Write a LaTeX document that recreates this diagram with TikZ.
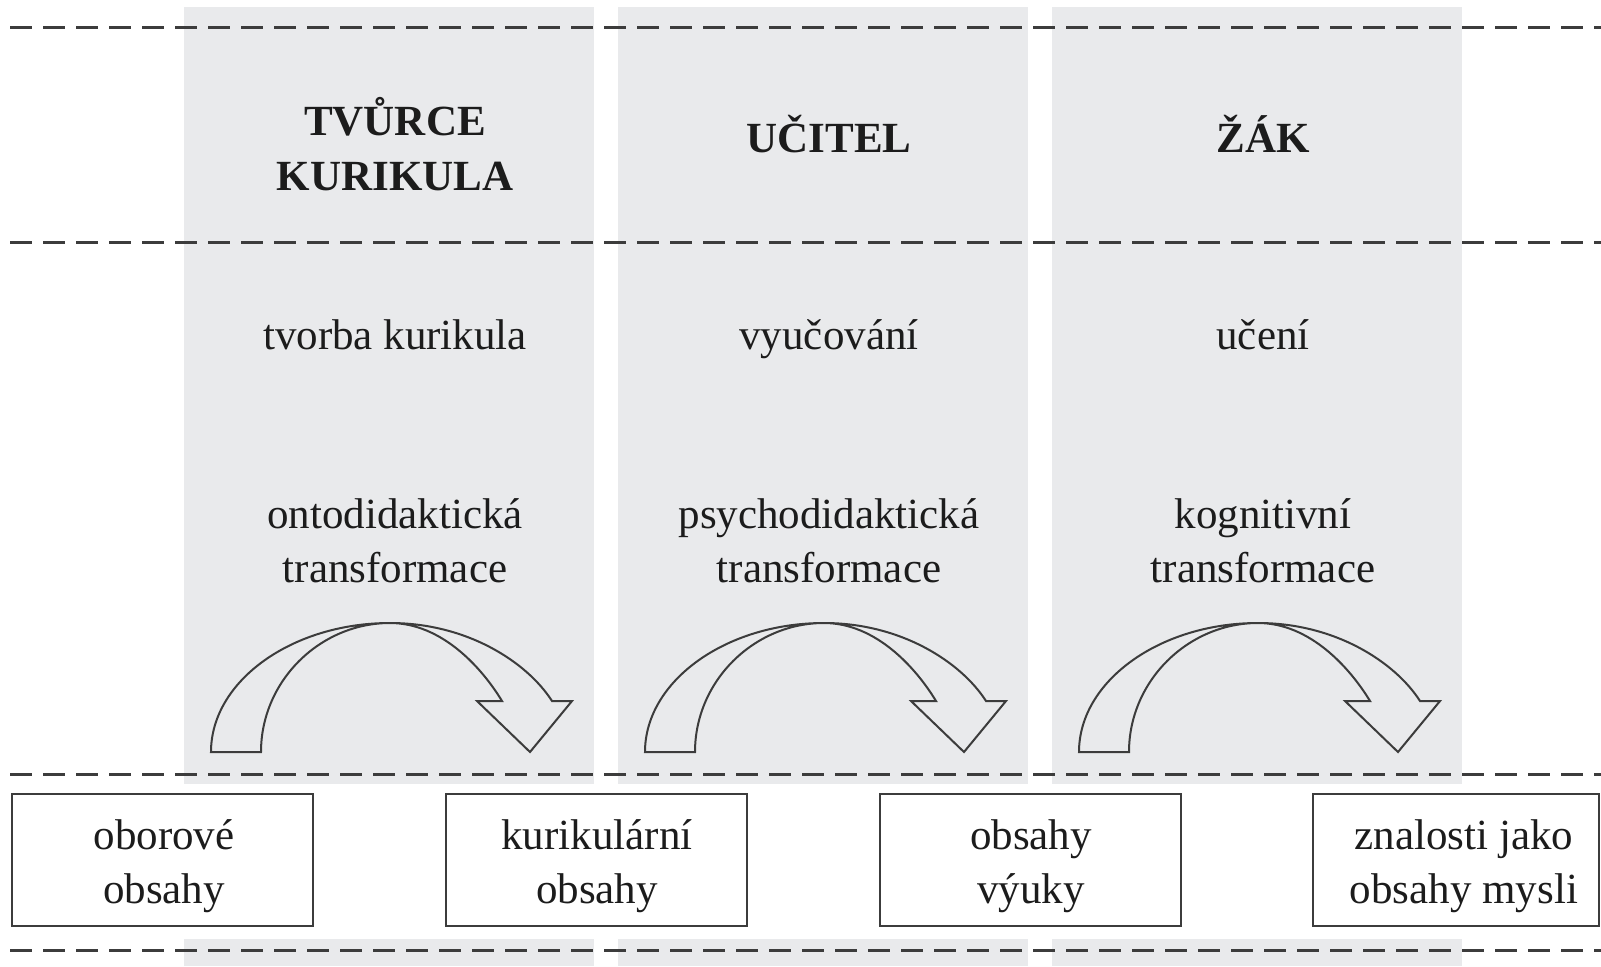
\documentclass[tikz,border=0pt]{standalone}
\usepackage{fontspec}
\setmainfont{Liberation Serif}
\definecolor{colgray}{RGB}{233,234,236}
\definecolor{ink}{RGB}{28,28,28}
\definecolor{linegray}{RGB}{60,60,60}
\begin{document}
\begin{tikzpicture}[x=0.5pt,y=-0.5pt,
  colfill/.style={fill=colgray,draw=none},
  sepline/.style={draw=linegray,line width=1.5pt,dash pattern=on 11pt off 5.5pt},
  headtext/.style={font=\fontsize{21.5}{27.5}\selectfont\bfseries,text=ink,align=center,inner sep=0pt},
  lbl/.style={font=\fontsize{21.5}{27}\selectfont,text=ink,align=center,inner sep=0pt},
  contentbox/.style={draw=linegray,line width=1.1pt,inner sep=0pt,minimum height=66pt},
  bigarrow/.style={draw=linegray,line width=1pt,fill=colgray,line join=miter}]
\useasboundingbox (0,0) rectangle (1601,966);
% columns
\foreach \dx in {0,434,868}{
  \fill[colfill] (184+\dx,7) rectangle (594+\dx,784);
  \fill[colfill] (184+\dx,939) rectangle (594+\dx,966);
}
% dashed separators
\foreach \yy in {27.6,242,774,950}{
  \draw[sepline] (10,\yy) -- (1601,\yy);
}
% headers
\node[headtext] (h1) at (395,144) {TVŮRCE\\KURIKULA};
\node[headtext,anchor=base] (h2) at (829,152) {UČITEL};
\node[headtext,anchor=base] (h3) at (1263,152) {ŽÁK};
% activities
\node[lbl,anchor=base] (a1) at (395,349) {tvorba kurikula};
\node[lbl,anchor=base] (a2) at (829,349) {vyučování};
\node[lbl,anchor=base] (a3) at (1263,349) {učení};
% transformations
\node[lbl] (t1) at (395,541) {ontodidaktická\\transformace};
\node[lbl] (t2) at (829,541) {psychodidaktická\\transformace};
\node[lbl] (t3) at (1263,541) {kognitivní\\transformace};
% curved arrows
\foreach \dx in {0,434,868}{
  \begin{scope}[xshift=\dx*0.5pt]
  \draw[bigarrow] (211,752) .. controls (211,681) and (292,623) .. (390,623)
     .. controls (467,623) and (527,662) .. (552,701)
     -- (572,701) -- (530,752) -- (477,701) -- (502,701)
     .. controls (482,668) and (442,623) .. (390,623)
     .. controls (320,623) and (261,681) .. (261,752) -- cycle;
  \end{scope}
}
% content boxes
\node[contentbox,minimum width=150.5pt] (b1) at (162.5,860) {};
\node[contentbox,minimum width=150.5pt] (b2) at (596.5,860) {};
\node[contentbox,minimum width=150.5pt] (b3) at (1030.5,860) {};
\node[contentbox,minimum width=143pt] (b4) at (1456,860) {};
\node[lbl] (b1t) at (164,866) {oborové\\obsahy};
\node[lbl] (b2t) at (597,866) {kurikulární\\obsahy};
\node[lbl] (b3t) at (1031,866) {obsahy\\výuky};
\node[lbl] (b4t) at (1464,866) {znalosti jako\\obsahy mysli};
\end{tikzpicture}
\end{document}
